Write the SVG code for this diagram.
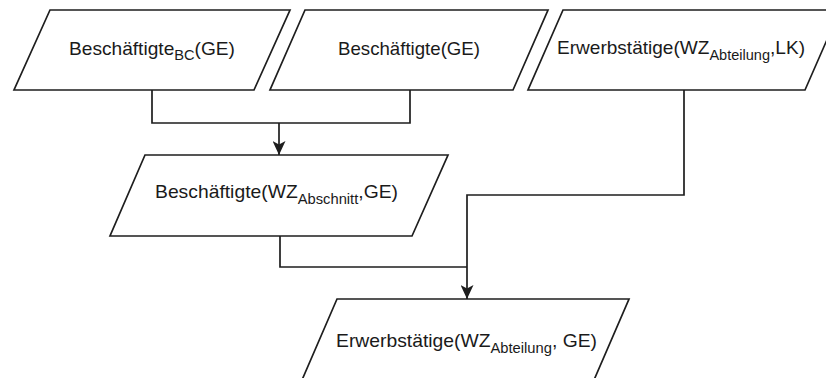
<svg xmlns="http://www.w3.org/2000/svg" width="826" height="378" viewBox="0 0 826 378">
  <style>
    .shape { fill: #ffffff; stroke: #1e1e1e; stroke-width: 1.7; }
    .label { font-family: "Liberation Sans", Arial, Helvetica, sans-serif; font-size: 19px; fill: #1a1a1a; text-anchor: middle; }
    .sub { font-size: 14.5px; }
    .edge { fill: none; stroke: #1e1e1e; stroke-width: 1.7; }
  </style>
  <defs>
    <marker id="arrow" markerUnits="userSpaceOnUse" viewBox="0 0 14 13" refX="14" refY="6.5" markerWidth="14" markerHeight="13" orient="auto">
      <path d="M0,0 L14,6.5 L0,13 L3.5,6.5 Z" fill="#1e1e1e"/>
    </marker>
  </defs>

  <rect width="826" height="378" fill="#ffffff"/>

  <!-- connectors -->
  <g id="connectors">
    <path class="edge" d="M152,90 V123 H410 V90"/>
    <path class="edge" d="M279,123 V155" marker-end="url(#arrow)"/>
    <path class="edge" d="M280,236 V267 H467"/>
    <path class="edge" d="M684,90 V195 H467 V299" marker-end="url(#arrow)"/>
  </g>

  <!-- input data sets -->
  <g id="beschaeftigte-bc">
    <polygon class="shape" points="50,10 290,10 254,90 14,90"/>
    <text class="label" x="152" y="55" textLength="166" lengthAdjust="spacingAndGlyphs">Beschäftigte<tspan class="sub" dy="5">BC</tspan><tspan dy="-5">(GE)</tspan></text>
  </g>

  <g id="beschaeftigte-ge">
    <polygon class="shape" points="305,10 548,10 513,90 270,90"/>
    <text class="label" x="409" y="55" textLength="142" lengthAdjust="spacingAndGlyphs">Beschäftigte(GE)</text>
  </g>

  <g id="erwerbstaetige-lk">
    <polygon class="shape" points="563,10 840,10 805,90 528,90"/>
    <text class="label" x="681" y="54" textLength="248" lengthAdjust="spacingAndGlyphs">Erwerbstätige(WZ<tspan class="sub" dy="6">Abteilung</tspan><tspan dy="-6">,LK)</tspan></text>
  </g>

  <!-- intermediate result -->
  <g id="beschaeftigte-abschnitt">
    <polygon class="shape" points="145,155 448,155 412,236 110,236"/>
    <text class="label" x="276.5" y="198" textLength="243" lengthAdjust="spacingAndGlyphs">Beschäftigte(WZ<tspan class="sub" dy="6">Abschnitt</tspan><tspan dy="-6">,GE)</tspan></text>
  </g>

  <!-- final result -->
  <g id="erwerbstaetige-ge">
    <polygon class="shape" points="337,299 629,299 594,380 302,380"/>
    <text class="label" x="466.5" y="347" textLength="261" lengthAdjust="spacingAndGlyphs">Erwerbstätige(WZ<tspan class="sub" dy="6">Abteilung</tspan><tspan dy="-6">, GE)</tspan></text>
  </g>
</svg>
